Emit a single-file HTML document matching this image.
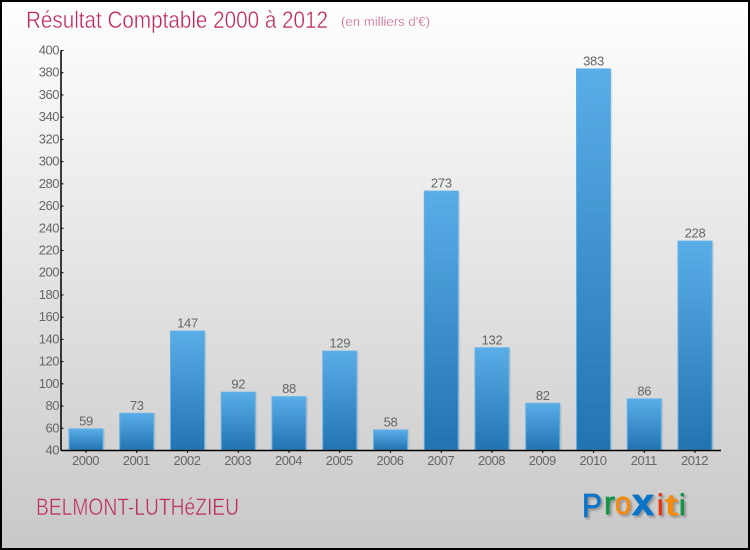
<!DOCTYPE html>
<html lang="fr">
<head>
<meta charset="utf-8">
<title>Résultat Comptable 2000 à 2012</title>
<style>
html,body{margin:0;padding:0;background:#fff}
svg{display:block}
text{font-family:"Liberation Sans",sans-serif}
.logo text{stroke-width:.8;stroke-linejoin:round;filter:drop-shadow(2px 2px 1px rgba(0,0,0,.28))}
</style>
</head>
<body>
<svg id="chart" width="750" height="550" viewBox="0 0 750 550" xmlns="http://www.w3.org/2000/svg">
<defs>
<linearGradient id="bg" x1="0" y1="0" x2="0" y2="1">
<stop offset="0" stop-color="#ffffff"/><stop offset="1" stop-color="#c8c8c8"/>
</linearGradient>
<linearGradient id="barFill" x1="0" y1="0" x2="0" y2="1">
<stop offset="0" stop-color="#5aaee8"/><stop offset="1" stop-color="#2274b0"/>
</linearGradient>
</defs>
<rect x="1" y="1" width="748" height="548" fill="url(#bg)" stroke="#000" stroke-width="2"/>
<text x="26" y="28" font-size="24" fill="#c2275e" stroke="#fbfbfb" stroke-width="0.45" textLength="302" lengthAdjust="spacingAndGlyphs">Résultat Comptable 2000 à 2012</text>
<text x="341" y="26" font-size="13" fill="#cf5a85" stroke="#fbfbfb" stroke-width="0.25" textLength="89" lengthAdjust="spacingAndGlyphs">(en milliers d'€)</text>
<g id="plot"></g>
<text x="36" y="515" font-size="24" fill="#bd2e62" stroke="#d0d0d0" stroke-width="0.45" textLength="203" lengthAdjust="spacingAndGlyphs">BELMONT-LUTHéZIEU</text>
<g class="logo">
<text x="582" y="517" font-size="33" fill="#0b74c9" stroke="#0b74c9" textLength="20" lengthAdjust="spacingAndGlyphs">P</text>
<text x="604" y="514" font-size="32" fill="#159447" stroke="#159447" textLength="11" lengthAdjust="spacingAndGlyphs">r</text>
<text x="615" y="514" font-size="32" fill="#f58a0b" stroke="#f58a0b" textLength="16" lengthAdjust="spacingAndGlyphs">o</text>
<text x="632" y="515" font-size="38" font-weight="bold" fill="#0b74c9" stroke="#0b74c9" textLength="22" lengthAdjust="spacingAndGlyphs">x</text>
<text x="657" y="515" font-size="30" fill="#e6361a" stroke="#e6361a">i</text>
<text x="665" y="515" font-size="30" fill="#f58a0b" stroke="#f58a0b" textLength="13" lengthAdjust="spacingAndGlyphs">t</text>
<text x="679" y="515" font-size="30" fill="#159447" stroke="#159447">i</text>
</g>
</svg>
<script>
const years = ["2000","2001","2002","2003","2004","2005","2006","2007","2008","2009","2010","2011","2012"];
const values = [59,73,147,92,88,129,58,273,132,82,383,86,228];
const yTicks = [40,60,80,100,120,140,160,180,200,220,240,260,280,300,320,340,360,380,400];

const NS = "http://www.w3.org/2000/svg";
const plot = document.getElementById("plot");
const axisLeft = 61, axisRight = 721, axisBottom = 450.5, axisTop = 50.5;
const yMin = 40, yMax = 400;
const barWidth = 35;
const textColor = "#666";
function yScale(v){ return axisBottom - (v - yMin) * (axisBottom - axisTop) / (yMax - yMin); }
function xScale(i){ return 86 + i * (695 - 86) / (years.length - 1); }
function make(tag, attrs, parent){
  const el = document.createElementNS(NS, tag);
  for (const k in attrs) el.setAttribute(k, attrs[k]);
  parent.appendChild(el);
  return el;
}

yTicks.forEach(function(t){
  const y = yScale(t);
  const tick = make("line", {x1: axisLeft, x2: axisLeft + 2.5, y1: y, y2: y, stroke: "#000", "stroke-width": 1}, plot);
  
  
  const label = make("text", {x: axisLeft - 2, y: y + 4, "font-size": 13, fill: textColor, "text-anchor": "end", "letter-spacing": "-0.5"}, plot);
  
  
  label.textContent = t;
});

years.forEach(function(yr, i){
  const cx = xScale(i), y = yScale(values[i]), x = cx - barWidth / 2;
  const shadow = make("rect", {x: x + 1.5, y: y, width: barWidth, height: axisBottom - y, fill: "#000", opacity: 0.07}, plot);
  
  
  const bar = make("rect", {x: x + 0.5, y: y - 0.5, width: barWidth - 1, height: axisBottom - y, fill: "url(#barFill)", stroke: "#62b0e8", "stroke-width": 1}, plot);
  
  
  const val = make("text", {x: cx, y: y - 4, "font-size": 13, fill: textColor, "text-anchor": "middle", "letter-spacing": "-0.3"}, plot);
  
  
  val.textContent = values[i];
  const tick = make("line", {x1: cx, x2: cx, y1: axisBottom, y2: axisBottom + 2.5, stroke: "#000", "stroke-width": 1}, plot);
  
  
  const label = make("text", {x: cx - 0.5, y: 465, "font-size": 13, fill: textColor, "text-anchor": "middle", "letter-spacing": "-0.5"}, plot);
  
  
  label.textContent = yr;
});

const yAxis = make("line", {x1: axisLeft, x2: axisLeft, y1: axisTop, y2: axisBottom, stroke: "#000", "stroke-width": 1.5}, plot);


const xAxis = make("line", {x1: axisLeft, x2: axisRight, y1: axisBottom, y2: axisBottom, stroke: "#000", "stroke-width": 1.5}, plot);


</script>
</body>
</html>
